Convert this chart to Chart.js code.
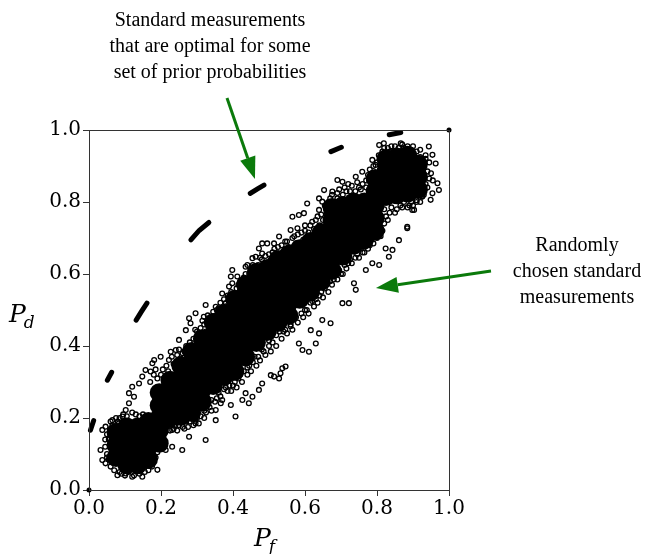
<!DOCTYPE html>
<html>
<head>
<meta charset="utf-8">
<script src="https://cdn.jsdelivr.net/npm/chart.js@4"></script>
<style>
  html, body { margin: 0; padding: 0; background: #fff; }
  #roc { display: block; }
</style>
</head>
<body>
<canvas id="roc" width="652" height="554"></canvas>
<script>
// ---------- Data ----------
const TICKS = [0.0, 0.2, 0.4, 0.6, 0.8, 1.0];

// pieces of the optimal (P_f, P_d) curve, drawn as thick dashes
const optimalSegments = [
  [[0.004, 0.166], [0.013, 0.193]],
  [[0.051, 0.305], [0.063, 0.327]],
  [[0.131, 0.472], [0.146, 0.496], [0.161, 0.519]],
  [[0.283, 0.695], [0.306, 0.721], [0.333, 0.743]],
  [[0.448, 0.824], [0.467, 0.836], [0.486, 0.847]],
  [[0.672, 0.940], [0.701, 0.952]],
  [[0.834, 0.987], [0.866, 0.993]]
];

// trivial measurements at the corners
const cornerPoints = [[0, 0], [1, 1]];

// heavily overlapped region of the random measurements
const denseCore = [
  [0.075,0.09],[0.075,0.125],[0.075,0.16],
  [0.105,0.07],[0.105,0.105],[0.105,0.14],[0.105,0.175],
  [0.135,0.07],[0.135,0.105],[0.135,0.14],[0.135,0.175],
  [0.165,0.085],[0.165,0.12],[0.165,0.155],[0.165,0.19],
  [0.195,0.13],[0.195,0.165],[0.195,0.2],[0.195,0.235],[0.195,0.27],
  [0.225,0.2],[0.225,0.235],[0.225,0.27],[0.225,0.305],
  [0.255,0.205],[0.255,0.24],[0.255,0.275],[0.255,0.31],[0.255,0.345],
  [0.285,0.215],[0.285,0.25],[0.285,0.285],[0.285,0.32],[0.285,0.355],[0.285,0.385],
  [0.315,0.245],[0.315,0.28],[0.315,0.315],[0.315,0.35],[0.315,0.385],[0.315,0.42],
  [0.345,0.29],[0.345,0.325],[0.345,0.36],[0.345,0.395],[0.345,0.43],[0.345,0.465],
  [0.375,0.315],[0.375,0.35],[0.375,0.385],[0.375,0.42],[0.375,0.455],[0.375,0.49],
  [0.405,0.33],[0.405,0.365],[0.405,0.4],[0.405,0.435],[0.405,0.47],[0.405,0.505],[0.405,0.53],
  [0.435,0.37],[0.435,0.405],[0.435,0.44],[0.435,0.475],[0.435,0.51],[0.435,0.545],[0.435,0.57],
  [0.465,0.41],[0.465,0.445],[0.465,0.48],[0.465,0.515],[0.465,0.55],[0.465,0.585],[0.465,0.605],
  [0.495,0.44],[0.495,0.475],[0.495,0.51],[0.495,0.545],[0.495,0.58],[0.495,0.615],
  [0.525,0.465],[0.525,0.5],[0.525,0.535],[0.525,0.57],[0.525,0.605],[0.525,0.64],
  [0.555,0.485],[0.555,0.52],[0.555,0.555],[0.555,0.59],[0.555,0.625],[0.555,0.655],
  [0.585,0.53],[0.585,0.565],[0.585,0.6],[0.585,0.635],[0.585,0.67],
  [0.615,0.55],[0.615,0.585],[0.615,0.62],[0.615,0.655],[0.615,0.69],
  [0.645,0.58],[0.645,0.615],[0.645,0.65],[0.645,0.685],[0.645,0.715],
  [0.675,0.61],[0.675,0.645],[0.675,0.68],[0.675,0.715],[0.675,0.75],[0.675,0.785],
  [0.705,0.65],[0.705,0.685],[0.705,0.72],[0.705,0.755],[0.705,0.79],
  [0.735,0.68],[0.735,0.715],[0.735,0.75],[0.735,0.785],[0.735,0.8],
  [0.765,0.695],[0.765,0.73],[0.765,0.765],[0.765,0.8],
  [0.795,0.72],[0.795,0.755],[0.795,0.79],[0.795,0.83],[0.795,0.865],
  [0.825,0.815],[0.825,0.85],[0.825,0.885],[0.825,0.92],
  [0.855,0.82],[0.855,0.855],[0.855,0.89],[0.855,0.925],
  [0.885,0.825],[0.885,0.86],[0.885,0.895],[0.885,0.93],
  [0.915,0.835],[0.915,0.87],[0.915,0.905]
];

// individually visible random measurements around the dense region
const sparsePoints = [
  // above the band
  [0.806,0.958],[0.819,0.963],[0.866,0.963],[0.944,0.954],[0.954,0.931],[0.963,0.907],
  [0.968,0.852],[0.972,0.833],[0.954,0.824],[0.926,0.815],[0.949,0.806],[0.898,0.778],
  [0.884,0.727],[0.741,0.87],[0.759,0.884],[0.778,0.861],[0.796,0.903],[0.787,0.917],
  [0.69,0.861],[0.704,0.856],[0.653,0.833],[0.676,0.829],[0.639,0.81],[0.648,0.801],
  [0.639,0.778],[0.606,0.796],[0.597,0.769],[0.583,0.764],[0.565,0.759],[0.56,0.722],
  [0.579,0.727],[0.528,0.704],[0.514,0.685],[0.495,0.685],[0.481,0.685],[0.472,0.671],
  [0.481,0.657],[0.454,0.644],[0.463,0.648],[0.44,0.625],[0.435,0.62],[0.398,0.611],
  [0.394,0.593],[0.412,0.593],[0.37,0.546],[0.398,0.574],[0.389,0.565],[0.38,0.519],
  [0.324,0.514],[0.352,0.509],[0.319,0.481],[0.296,0.491],[0.278,0.477],[0.282,0.463],
  [0.269,0.444],[0.25,0.417],[0.241,0.389],[0.227,0.384],[0.222,0.361],[0.199,0.37],
  [0.181,0.361],[0.176,0.352],[0.157,0.333],[0.171,0.329],[0.148,0.315],[0.139,0.296],
  [0.12,0.287],[0.111,0.269],[0.125,0.259],[0.111,0.241],[0.102,0.222],[0.093,0.204],
  [0.083,0.185],[0.065,0.194],[0.046,0.176],[0.037,0.167],[0.032,0.111],[0.037,0.083],
  [0.046,0.074],[0.079,0.041],[0.102,0.046],[0.12,0.037],[0.148,0.037],[0.19,0.056],
  // below the band
  [0.194,0.13],[0.213,0.111],[0.231,0.12],[0.259,0.111],[0.231,0.167],[0.278,0.148],
  [0.324,0.139],[0.296,0.185],[0.352,0.194],[0.352,0.222],[0.366,0.241],[0.394,0.236],
  [0.407,0.204],[0.426,0.25],[0.444,0.241],[0.435,0.269],[0.454,0.259],[0.472,0.278],
  [0.481,0.296],[0.505,0.319],[0.514,0.315],[0.532,0.324],[0.537,0.338],[0.528,0.31],
  [0.546,0.343],[0.583,0.407],[0.593,0.389],[0.611,0.384],[0.63,0.407],[0.616,0.444],
  [0.639,0.435],[0.648,0.472],[0.671,0.463],[0.704,0.519],[0.722,0.519],[0.741,0.556],
  [0.736,0.574],[0.769,0.611],[0.787,0.63],[0.806,0.625],[0.833,0.648],[0.843,0.667],
  [0.824,0.671],[0.861,0.694],[0.884,0.731],[0.903,0.778],
  // along the upper edge of the dense band
  [0.2,0.32],[0.215,0.345],[0.235,0.35],[0.26,0.38],[0.27,0.4],[0.29,0.42],[0.3,0.44],
  [0.32,0.46],[0.335,0.47],[0.355,0.5],[0.365,0.52],[0.385,0.54],[0.41,0.56],[0.42,0.58],
  [0.445,0.6],[0.46,0.62],[0.48,0.64],[0.5,0.655],[0.515,0.67],[0.535,0.68],[0.55,0.69],
  [0.57,0.705],[0.59,0.715],[0.6,0.735],[0.62,0.745],[0.635,0.76],[0.655,0.79],[0.67,0.81],
  [0.69,0.825],[0.71,0.84],[0.73,0.845],[0.75,0.84],[0.77,0.86],[0.785,0.88],[0.8,0.91],
  [0.815,0.94],[0.83,0.95],[0.85,0.955],[0.87,0.96],[0.9,0.955],[0.92,0.945],[0.935,0.93],
  [0.945,0.91],[0.95,0.88],[0.955,0.86],[0.94,0.84],[0.93,0.82],[0.91,0.8],[0.89,0.79],
  [0.87,0.785],
  [0.17,0.30],[0.18,0.32],[0.185,0.335],[0.19,0.31],[0.205,0.335],[0.21,0.31],[0.22,0.33],
  [0.23,0.37],[0.24,0.345],[0.245,0.375],[0.25,0.39],[0.255,0.365],[0.265,0.385],[0.275,0.38],
  [0.28,0.41],[0.29,0.40],[0.295,0.445],[0.305,0.42],[0.31,0.45],[0.315,0.47],[0.325,0.44],
  [0.33,0.485],[0.34,0.46],[0.345,0.495],[0.35,0.48],[0.36,0.505],[0.37,0.5],[0.375,0.53],
  [0.38,0.51],[0.39,0.525],[0.395,0.55],[0.405,0.545],[0.415,0.57],[0.42,0.555],[0.43,0.59],
  [0.435,0.6],[0.44,0.58],[0.45,0.61],[0.455,0.625],[0.47,0.625],[0.475,0.645],[0.485,0.62],
  [0.49,0.65],[0.505,0.64],[0.51,0.66],[0.52,0.65],[0.525,0.675],[0.54,0.66],[0.545,0.69],
  [0.555,0.675],[0.565,0.7],[0.575,0.685],[0.58,0.71],[0.595,0.695],[0.6,0.72],[0.61,0.715],
  [0.615,0.735],[0.625,0.725],[0.63,0.75],[0.64,0.735],[0.645,0.765],[0.65,0.75],[0.66,0.77],
  [0.665,0.8],[0.675,0.82],[0.68,0.8],[0.69,0.81],[0.695,0.835],[0.705,0.82],[0.715,0.83],
  [0.72,0.85],[0.725,0.83],[0.74,0.83],[0.745,0.855],[0.755,0.835],[0.76,0.85],[0.77,0.84],
  [0.775,0.875],[0.78,0.89],[0.79,0.9],[0.8,0.88],[0.805,0.93],[0.81,0.9],[0.82,0.95],
  [0.825,0.935],[0.835,0.94],[0.84,0.955],[0.86,0.95],[0.875,0.95],[0.885,0.955],[0.895,0.945],
  [0.91,0.94],[0.92,0.925],[0.93,0.9],[0.935,0.92],[0.94,0.885],[0.945,0.865],[0.935,0.85],
  [0.925,0.83],[0.93,0.87],
  // along the lower edge of the dense band
  [0.2,0.16],[0.215,0.175],[0.24,0.18],[0.26,0.175],[0.28,0.19],[0.3,0.2],[0.32,0.22],
  [0.34,0.25],[0.36,0.27],[0.38,0.285],[0.4,0.29],[0.42,0.32],[0.44,0.34],[0.46,0.37],
  [0.48,0.39],[0.5,0.415],[0.52,0.43],[0.54,0.44],[0.56,0.46],[0.575,0.48],[0.6,0.5],
  [0.62,0.525],[0.64,0.54],[0.66,0.57],[0.68,0.585],[0.7,0.6],[0.72,0.63],[0.74,0.645],
  [0.76,0.66],[0.78,0.68],[0.8,0.7],[0.815,0.72],[0.83,0.75],[0.85,0.77],[0.82,0.78],
  [0.185,0.19],[0.2,0.175],[0.21,0.16],[0.22,0.18],[0.225,0.165],[0.235,0.17],[0.245,0.165],
  [0.25,0.18],[0.265,0.17],[0.27,0.19],[0.275,0.175],[0.29,0.18],[0.295,0.195],[0.305,0.185],
  [0.31,0.205],[0.32,0.2],[0.325,0.215],[0.335,0.23],[0.34,0.22],[0.35,0.245],[0.355,0.255],
  [0.365,0.26],[0.37,0.25],[0.375,0.28],[0.385,0.275],[0.39,0.29],[0.395,0.275],[0.405,0.3],
  [0.41,0.285],[0.415,0.31],[0.425,0.3],[0.43,0.33],[0.44,0.32],[0.445,0.345],[0.45,0.33],
  [0.455,0.355],[0.465,0.345],[0.47,0.37],[0.475,0.36],[0.485,0.385],[0.49,0.375],[0.5,0.4],
  [0.505,0.385],[0.51,0.41],[0.52,0.4],[0.53,0.44],[0.535,0.42],[0.545,0.445],[0.55,0.435],
  [0.56,0.455],[0.565,0.445],[0.57,0.475],[0.58,0.465],[0.59,0.49],[0.595,0.48],[0.605,0.5],
  [0.61,0.49],[0.615,0.52],[0.625,0.51],[0.63,0.53],[0.635,0.52],[0.645,0.55],[0.65,0.535],
  [0.655,0.56],[0.665,0.55],[0.67,0.58],[0.675,0.57],[0.685,0.6],[0.69,0.585],[0.695,0.61],
  [0.705,0.6],[0.71,0.625],[0.715,0.615],[0.725,0.64],[0.73,0.63],[0.745,0.655],[0.75,0.645],
  [0.755,0.67],[0.765,0.66],[0.77,0.685],[0.775,0.67],[0.785,0.695],[0.79,0.685],[0.8,0.72],
  [0.81,0.705],[0.82,0.74],[0.825,0.76],[0.835,0.77],[0.84,0.785],[0.855,0.78],[0.865,0.79],
  [0.875,0.8],[0.885,0.785],[0.895,0.8],[0.9,0.79],[0.91,0.805],[0.92,0.8],[0.925,0.815],
  // rim of the low (P_f, P_d) cluster
  [0.05,0.1],[0.055,0.14],[0.06,0.17],[0.07,0.055],[0.09,0.045],[0.11,0.05],[0.14,0.045],
  [0.165,0.055],[0.18,0.08],[0.19,0.105],[0.185,0.17],[0.17,0.2],[0.15,0.21],[0.12,0.215],
  [0.095,0.21],[0.075,0.2],[0.06,0.19],
  [0.045,0.12],[0.05,0.155],[0.055,0.085],[0.06,0.065],[0.065,0.18],[0.08,0.19],[0.085,0.05],
  [0.1,0.04],[0.125,0.04],[0.13,0.21],[0.155,0.05],[0.175,0.065],[0.185,0.09],[0.19,0.14],
  [0.18,0.185],[0.16,0.2],[0.14,0.205],[0.105,0.205],[0.085,0.2],[0.045,0.14],[0.05,0.09]
];

// annotation arrow tips, in (P_f, P_d)
const optimalArrowTip = [0.461, 0.864];
const randomArrowTip = [0.797, 0.561];

// ---------- Helpers ----------
const toXY = pts => pts.map(([x, y]) => ({ x, y }));
const SERIF = '"DejaVu Serif", serif';
const TEXT_SERIF = '"Liberation Serif", "Times New Roman", serif';
const GREEN = "#0b7a0b";

function drawArrow(ctx, x0, y0, x1, y1) {
  const ang = Math.atan2(y1 - y0, x1 - x0);
  const headLen = 22, headHalf = 8;
  const bx = x1 - headLen * Math.cos(ang), by = y1 - headLen * Math.sin(ang);
  ctx.strokeStyle = GREEN;
  ctx.fillStyle = GREEN;
  ctx.lineWidth = 3;
  ctx.beginPath();
  ctx.moveTo(x0, y0);
  ctx.lineTo(bx, by);
  ctx.stroke();
  ctx.beginPath();
  ctx.moveTo(x1, y1);
  ctx.lineTo(bx + headHalf * Math.sin(ang), by - headHalf * Math.cos(ang));
  ctx.lineTo(bx - headHalf * Math.sin(ang), by + headHalf * Math.cos(ang));
  ctx.closePath();
  ctx.fill();
}

function drawSubscripted(ctx, main, sub, x, y) {
  ctx.font = `italic 25px ${SERIF}`;
  ctx.fillText(main, x, y);
  const w = ctx.measureText(main).width;
  ctx.font = `italic 17px ${SERIF}`;
  ctx.fillText(sub, x + w - 2, y + 6);
}

// frame, axis titles and the two green annotations
const decorations = {
  id: "decorations",
  afterDraw(chart) {
    const { ctx, chartArea: a, scales: { x, y } } = chart;
    ctx.save();
    ctx.strokeStyle = "#333";
    ctx.lineWidth = 1;
    ctx.strokeRect(a.left + 0.5, a.top + 0.5, a.right - a.left, a.bottom - a.top);

    ctx.fillStyle = "#000";
    ctx.textAlign = "left";
    ctx.textBaseline = "alphabetic";
    drawSubscripted(ctx, "P", "f", 254, 546);
    drawSubscripted(ctx, "P", "d", 9, 322);

    ctx.font = `20px ${TEXT_SERIF}`;
    ctx.textAlign = "center";
    ctx.textBaseline = "middle";
    ["Standard measurements", "that are optimal for some", "set of prior probabilities"]
      .forEach((t, i) => ctx.fillText(t, 210, 21 + i * 26));
    ["Randomly", "chosen standard", "measurements"]
      .forEach((t, i) => ctx.fillText(t, 577, 246 + i * 26));

    drawArrow(ctx, 227, 98, x.getPixelForValue(optimalArrowTip[0]), y.getPixelForValue(optimalArrowTip[1]));
    drawArrow(ctx, 491, 271, x.getPixelForValue(randomArrowTip[0]), y.getPixelForValue(randomArrowTip[1]));
    ctx.restore();
  }
};

// ---------- Chart ----------
const segmentDatasets = optimalSegments.map(seg => ({
  type: "line",
  data: toXY(seg),
  borderColor: "#000",
  borderWidth: 5,
  borderCapStyle: "round",
  pointRadius: 0,
  fill: false,
  clip: false
}));

const axisFont = { family: SERIF, size: 20 };

new Chart(document.getElementById("roc"), {
  type: "scatter",
  data: {
    datasets: [
      {
        data: toXY(denseCore),
        pointRadius: 9.5,
        pointBackgroundColor: "#000",
        pointBorderWidth: 0
      },
      {
        data: toXY(sparsePoints),
        pointRadius: 2.4,
        pointBackgroundColor: "rgba(255,255,255,0)",
        pointBorderColor: "#000",
        pointBorderWidth: 1.3
      },
      ...segmentDatasets,
      {
        data: toXY(cornerPoints),
        pointRadius: 2.5,
        pointBackgroundColor: "#000",
        pointBorderWidth: 0,
        clip: false
      }
    ]
  },
  options: {
    responsive: false,
    animation: false,
    devicePixelRatio: 1,
    layout: { padding: { top: 130, right: 203, bottom: 0, left: 0 } },
    plugins: { legend: { display: false }, tooltip: { enabled: false } },
    scales: {
      x: {
        type: "linear", min: 0, max: 1,
        afterBuildTicks: s => { s.ticks = TICKS.map(v => ({ value: v })); },
        afterFit: s => { s.height = 64; },
        ticks: { font: axisFont, color: "#000", padding: 1, maxRotation: 0,
                 callback: v => v.toFixed(1) },
        grid: { drawOnChartArea: false, tickLength: 6, tickColor: "#333" },
        border: { color: "#333" }
      },
      y: {
        type: "linear", min: 0, max: 1,
        afterBuildTicks: s => { s.ticks = TICKS.map(v => ({ value: v })); },
        afterFit: s => { s.width = 89; },
        ticks: { font: axisFont, color: "#000", padding: 2,
                 callback: v => v.toFixed(1) },
        grid: { drawOnChartArea: false, tickLength: 6, tickColor: "#333" },
        border: { color: "#333" }
      }
    }
  },
  plugins: [decorations]
});
</script>
</body>
</html>
